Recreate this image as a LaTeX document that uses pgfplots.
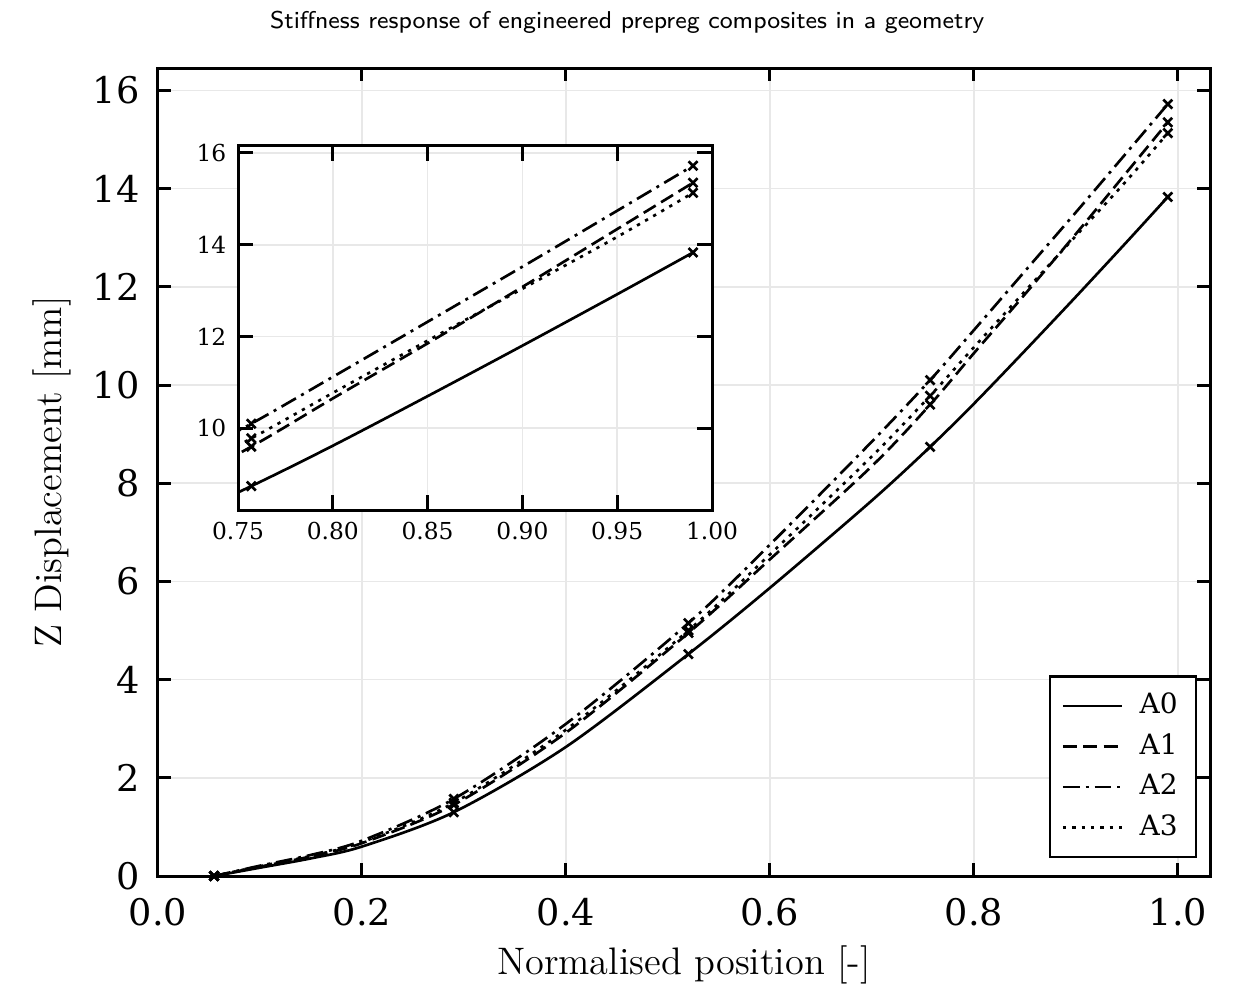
\documentclass[border=0pt]{standalone}
\usepackage{fontspec}
\newfontfamily\dvs{DejaVu Serif}
\usepackage{pgfplots}
\usepackage{pgfplotstable}
\pgfplotsset{compat=1.18}

% curves
\pgfplotstableread{
x     a0     a1     a2     a3
0.055 0.00   0.00   0.00   0.00
0.10  0.17   0.19   0.21   0.20
0.15  0.36   0.40   0.43   0.41
0.20  0.60   0.67   0.72   0.69
0.29  1.30   1.45   1.57   1.49
0.40  2.63   2.92   3.10   2.98
0.52  4.52   4.95   5.15   5.00
0.60  5.87   6.45   6.75   6.55
0.70  7.65   8.35   8.85   8.55
0.757 8.74   9.60   10.10  9.78
0.80  9.62   10.65  11.12  10.77
0.85  10.70  11.85  12.32  11.91
0.90  11.80  13.08  13.52  13.04
0.95  12.92  14.34  14.74  14.17
0.99  13.83  15.35  15.72  15.13
}\curves

% marker positions
\pgfplotstableread{
x     a0     a1     a2     a3
0.055 0.00   0.00   0.00   0.00
0.29  1.30   1.45   1.57   1.49
0.52  4.52   4.95   5.15   5.00
0.757 8.74   9.60   10.10  9.78
0.99  13.83  15.35  15.72  15.13
}\marks

\pgfplotsset{
  lA0/.style={black, line width=0.8pt, smooth},
  lA1/.style={black, line width=0.8pt, smooth, dash pattern=on 4.2pt off 1.9pt},
  lA2/.style={black, line width=0.8pt, smooth, dash pattern=on 5pt off 1.8pt on 0.9pt off 1.8pt},
  lA3/.style={black, line width=0.8pt, smooth, dash pattern=on 1pt off 1.8pt},
  mk/.style={black, only marks, mark=x, mark size=1.9pt, line width=0.8pt, forget plot},
}

\begin{document}
\begin{tikzpicture}
\path[use as bounding box] (-47.4pt,-32.4pt) rectangle (324pt,262.8pt);
\begin{axis}[
  name=main, at={(0,0)}, anchor=south west,
  scale only axis, width=315.6pt, height=242.4pt,
  xmin=0, xmax=1.0314, ymin=0, ymax=16.456,
  xtick={0,0.2,0.4,0.6,0.8,1.0},
  ytick={0,2,4,6,8,10,12,14,16},
  tick align=inside, major tick length=4pt,
  tick style={black, line width=0.9pt},
  axis line style={line width=0.9pt},
  grid=major, major grid style={gray!18, line width=0.5pt},
  /pgf/number format/assume math mode=true,
  ticklabel style={font=\dvs\fontsize{11}{13}\selectfont},
  xticklabel style={/pgf/number format/fixed, /pgf/number format/fixed zerofill,
                    /pgf/number format/precision=1, yshift=-3pt},
  yticklabel style={xshift=-2pt},
  xlabel={Normalised position [-]},
  ylabel={Z Displacement [mm]},
  xlabel style={at={(0.5,0)}, anchor=center, yshift=-26.7pt, font=\fontsize{11.5}{13}\selectfont},
  ylabel style={at={([xshift=-31.8pt]axis description cs:0,0.5)}, anchor=center, font=\fontsize{11.5}{13}\selectfont},
  title={Stiffness response of engineered prepreg composites in a geometry},
  title style={at={(0.446,1.057)}, anchor=center, yshift=-6pt, font=\sffamily\fontsize{7.3}{8}\selectfont},
  legend style={at={(0.988,0.022)}, anchor=south east, draw=black, line width=0.8pt,
                font=\dvs\fontsize{8.4}{10}\selectfont, row sep=0.4pt,
                inner xsep=3.5pt, inner ysep=3pt,
                /tikz/every odd column/.append style={column sep=3pt}},
  legend cell align=left,
  legend image code/.code={\draw[#1] (0cm,0cm) -- (0.62cm,0cm);},
]
\addplot[lA0] table[x=x,y=a0]{\curves}; \addlegendentry{A0}
\addplot[lA1] table[x=x,y=a1]{\curves}; \addlegendentry{A1}
\addplot[lA2] table[x=x,y=a2]{\curves}; \addlegendentry{A2}
\addplot[lA3] table[x=x,y=a3]{\curves}; \addlegendentry{A3}
\addplot[mk] table[x=x,y=a0]{\marks};
\addplot[mk] table[x=x,y=a1]{\marks};
\addplot[mk] table[x=x,y=a2]{\marks};
\addplot[mk] table[x=x,y=a3]{\marks};
\end{axis}

\begin{axis}[
  at={(main.south west)}, anchor=south west, xshift=24pt, yshift=109.8pt,
  scale only axis, width=142.2pt, height=109.2pt,
  xmin=0.75, xmax=1.0, ymin=8.22, ymax=16.15,
  xtick={0.75,0.80,0.85,0.90,0.95,1.00},
  ytick={10,12,14,16},
  axis background/.style={fill=white},
  tick align=inside, major tick length=4.5pt,
  tick style={black, line width=0.9pt},
  axis line style={line width=0.9pt},
  grid=major, major grid style={gray!18, line width=0.5pt},
  /pgf/number format/assume math mode=true,
  ticklabel style={font=\dvs\fontsize{7}{8}\selectfont},
  xticklabel style={/pgf/number format/fixed, /pgf/number format/fixed zerofill,
                    /pgf/number format/precision=2},
]
\addplot[lA0] table[x=x,y=a0]{\curves};
\addplot[lA1] table[x=x,y=a1]{\curves};
\addplot[lA2] table[x=x,y=a2]{\curves};
\addplot[lA3] table[x=x,y=a3]{\curves};
\addplot[mk] table[x=x,y=a0]{\marks};
\addplot[mk] table[x=x,y=a1]{\marks};
\addplot[mk] table[x=x,y=a2]{\marks};
\addplot[mk] table[x=x,y=a3]{\marks};
\end{axis}
\end{tikzpicture}
\end{document}
